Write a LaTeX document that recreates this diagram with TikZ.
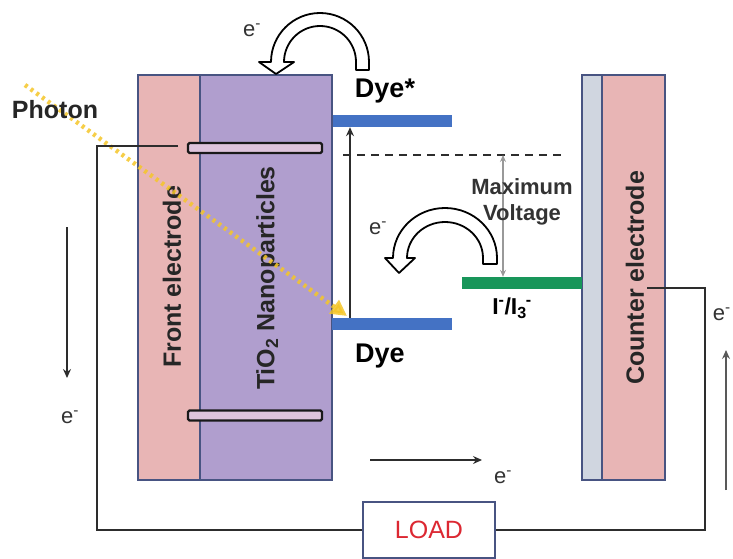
\documentclass[tikz,border=0pt]{standalone}
\usepackage{fontspec}
\setmainfont{Liberation Sans}
\usetikzlibrary{arrows.meta,calc}
\definecolor{pinkel}{RGB}{232,181,181}
\definecolor{tio}{RGB}{176,158,206}
\definecolor{edge}{RGB}{72,84,130}
\definecolor{glass}{RGB}{208,214,224}
\definecolor{dyeblue}{RGB}{68,114,196}
\definecolor{redox}{RGB}{24,150,90}
\definecolor{wire}{RGB}{45,45,45}
\definecolor{loadred}{RGB}{220,40,50}
\definecolor{photonc}{RGB}{245,198,40}
\definecolor{slotfill}{RGB}{222,196,220}
\newcommand\fsz[1]{\fontsize{#1}{#1}\selectfont}
\begin{document}
\begin{tikzpicture}[x=1pt,y=-1pt,
  layerbox/.style={draw=edge,line width=1.3pt,inner sep=0pt,minimum height=405pt},
  slot/.style={draw=black!90,line width=2.4pt,fill=slotfill,rounded corners=1.5pt,inner sep=0pt,minimum width=134pt,minimum height=10pt},
  level/.style={inner sep=0pt,minimum height=12pt,minimum width=120pt},
  wireline/.style={draw=wire,line width=1.4pt},
  thinarrow/.style={draw=wire,line width=1.4pt,-{Stealth[length=9pt,width=8pt,inset=3pt]}},
  hollow/.style={fill=white,draw=black,line width=1.8pt,line join=round},
  lbl/.style={font=\bfseries\fsz{25},text=black!85,inner sep=0pt},
  elec/.style={font=\fsz{22},text=black!80,inner sep=0pt}]
\useasboundingbox (0,0) rectangle (733,559);
% layers
\node[layerbox,fill=pinkel,minimum width=62pt] (front) at (169,277.5) {};
\node[layerbox,fill=tio,minimum width=132pt] (tio2) at (266,277.5) {};
\node[layerbox,fill=glass,minimum width=20pt] (glassl) at (592,277.5) {};
\node[layerbox,fill=pinkel,minimum width=63pt] (counter) at (633.5,277.5) {};
% slots
\node[slot] (slotup) at (255,148) {};
\node[slot] (slotdn) at (255,415.5) {};
% labels on layers
\node[lbl,rotate=90] (frontlbl) at (172,277) {Front electrode};
\node[lbl,rotate=90] (tiolbl) at (268,278) {TiO\textsubscript{2} Nanoparticles};
\node[lbl,rotate=90] (counterlbl) at (635,278) {Counter electrode};
% energy levels
\node[level,fill=dyeblue,minimum width=119pt] (dyestar) at (392.5,121) {};
\node[level,fill=dyeblue] (dye) at (392,324) {};
\node[level,fill=redox] (red) at (522,283) {};
\coordinate (dashL) at (343,155);
\coordinate (dashR) at (565,155);
\draw[draw=wire,line width=1.3pt,dash pattern=on 8pt off 6pt] (dashL) -- (dashR);
\coordinate (exc) at (350,0);
\draw[thinarrow,line width=1.2pt] (dye.north -| exc) -- (dyestar.south -| exc);
\coordinate (mv) at (503,0);
\draw[draw=black!40,line width=1.1pt,{Stealth[length=7pt,width=6pt,inset=2.5pt]}-{Stealth[length=7pt,width=6pt,inset=2.5pt]}] (dashL -| mv) -- (red.north -| mv);
\node[font=\bfseries\fsz{22},text=black!80,align=center,inner sep=0pt] (maxv) at (522,202) {Maximum\\[4pt]Voltage};
% hollow curved arrows
\draw[hollow] (356,70) -- (356,62) arc[start angle=0,end angle=-180,x radius=36,y radius=36] -- (294,62) -- (276,74) -- (259,62) -- (271,62) arc[start angle=-180,end angle=0,x radius=49,y radius=49] -- (369,70) -- cycle;
\draw[hollow] (483,264) -- (483,258) arc[start angle=0,end angle=-180,x radius=38,y radius=36] -- (415,258) -- (399,273) -- (385,258) -- (393,258) arc[start angle=-180,end angle=0,x radius=52,y radius=50] -- (497,264) -- cycle;
\node[elec] (etop) at (252,30) {e\textsuperscript{-}};
\node[elec] (emid) at (378,228) {e\textsuperscript{-}};
% level labels
\node[font=\bfseries\fsz{27},inner sep=0pt] (dyestarlbl) at (385,91) {Dye*};
\node[font=\bfseries\fsz{27},inner sep=0pt] (dyelbl) at (380,356) {Dye};
\node[font=\bfseries\fsz{23},inner sep=0pt] (redlbl) at (512,308) {I\textsuperscript{-}/I\textsubscript{3}\kern-1pt\textsuperscript{-}};
% photon
\coordinate (phs) at (25,85);
\coordinate (phe) at (347,316);
\draw[draw=photonc,opacity=0.85,line width=4.5pt,dash pattern=on 3pt off 4pt,-{Triangle[length=16pt,width=16pt]}] (phs) -- (phe);
\node[font=\bfseries\fsz{25},text=black!85,inner sep=0pt] (photon) at (55,110) {Photon};
% circuit
\node[draw=edge,line width=1.3pt,fill=white,minimum width=132pt,minimum height=56pt,text=loadred,font=\fsz{25},inner sep=0pt] (load) at (429,530) {LOAD};
\coordinate (lw) at (178,146);
\coordinate (lc) at (97,530);
\coordinate (cw) at (647,288);
\coordinate (rc) at (705,530);
\draw[wireline] (lw) -| (lc) -- (load.west);
\draw[wireline] (cw) -| (rc) -- (load.east);
% electron flow arrows
\coordinate (a1s) at (67,227); \coordinate (a1e) at (67,378);
\draw[thinarrow] (a1s) -- (a1e);
\node[elec] (eleft) at (70,417) {e\textsuperscript{-}};
\coordinate (a2s) at (370,460); \coordinate (a2e) at (482,460);
\draw[thinarrow] (a2s) -- (a2e);
\node[elec] (ebottom) at (503,477) {e\textsuperscript{-}};
\coordinate (a3s) at (726,490); \coordinate (a3e) at (726,350);
\draw[thinarrow,draw=black!65] (a3s) -- (a3e);
\node[elec,anchor=east] (eright) at (731,314) {e\textsuperscript{-}};
\end{tikzpicture}
\end{document}
